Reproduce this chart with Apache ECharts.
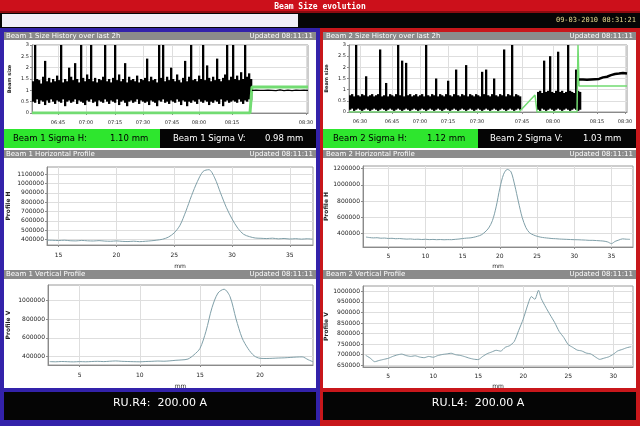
<!DOCTYPE html>
<html>
<head>
<meta charset="utf-8">
<title>Beam Size evolution</title>
<script src="https://cdn.jsdelivr.net/npm/echarts@6/dist/echarts.min.js"></script>
<style>
  html, body { margin: 0; padding: 0; background: #fff; }
  #chart { width: 640px; height: 426px; }
</style>
</head>
<body>
<div id="chart"></div>
<script>
// ---- beam 1 size history: min / max per time bin, then a quiet tail ----
var hi1 = [
  1.4, 3.0, 1.5, 1.45, 1.3, 1.6, 2.3, 1.4, 1.55, 1.35,
  1.5, 1.4, 1.65, 1.45, 3.0, 1.35, 1.5, 1.4, 2.0, 1.6,
  1.45, 2.2, 1.5, 1.35, 3.0, 1.55, 1.4, 1.7, 1.5, 3.0,
  1.4, 1.55, 1.35, 1.5, 1.45, 1.6, 3.0, 1.4, 1.5, 1.35,
  1.55, 3.0, 1.45, 1.7, 1.4, 1.5, 2.2, 1.35, 1.6, 1.45,
  1.5, 1.4, 1.65, 1.35, 1.5, 1.45, 1.55, 2.4, 1.4, 1.6,
  1.45, 1.5, 1.35, 3.0, 1.55, 3.0, 1.4, 1.6, 1.45, 2.0,
  1.5, 1.4, 1.7, 1.45, 1.35, 1.55, 2.3, 1.4, 1.6, 3.0,
  1.45, 1.5, 1.4, 1.65, 1.5, 3.0, 1.45, 2.1, 1.55, 1.4,
  1.6, 1.45, 2.4, 1.5, 1.4, 1.55, 1.7, 3.0, 1.45, 1.6,
  3.0, 1.5, 1.65, 1.45, 1.8, 1.5, 3.0, 1.6, 1.75, 1.5
];
var lo1 = [
  0.5, 0.45, 0.6, 0.4, 0.55, 0.5, 0.35, 0.55, 0.45, 0.6,
  0.5, 0.4, 0.55, 0.5, 0.45, 0.6, 0.3, 0.5, 0.55, 0.45,
  0.5, 0.6, 0.4, 0.55, 0.5, 0.45, 0.35, 0.55, 0.5, 0.6,
  0.45, 0.5, 0.3, 0.55, 0.5, 0.45, 0.6, 0.5, 0.4, 0.55,
  0.5, 0.45, 0.6, 0.35, 0.5, 0.55, 0.45, 0.3, 0.5, 0.55,
  0.45, 0.5, 0.6, 0.4, 0.55, 0.5, 0.45, 0.5, 0.35, 0.55,
  0.5, 0.45, 0.3, 0.55, 0.5, 0.6, 0.45, 0.5, 0.4, 0.55,
  0.5, 0.45, 0.6, 0.5, 0.35, 0.55, 0.5, 0.3, 0.5, 0.45,
  0.55, 0.5, 0.4, 0.6, 0.5, 0.45, 0.55, 0.5, 0.35, 0.5,
  0.45, 0.55, 0.5, 0.4, 0.6, 0.3, 0.5, 0.55, 0.45, 0.5,
  0.55, 0.5, 0.45, 0.6, 0.5, 0.4, 0.55, 0.5, 0.6, 0.55
];
var tail1Start = 110;
var tail1 = [1.0, 1.0, 1.01, 0.99, 1.0, 1.02, 1.0, 0.99, 1.01, 1.0,
  1.0, 1.01, 0.99, 1.0, 1.02, 1.0, 0.99, 1.0, 1.01, 1.0,
  0.99, 1.0, 1.01, 1.0, 1.0, 0.99, 1.01, 1.0, 1.0];
var fit1 = [[0, 0], [109, 0], [110, 1.15], [138, 1.15]];
var histTicks1 = [13, 27, 41.5, 55.5, 70, 83.5, 100, 137];
var histLabels1 = ['06:45', '07:00', '07:15', '07:30', '07:45', '08:00', '08:15', '08:30'];

// ---- beam 2 size history (no data between bins 86 and 93) ----
var hi2 = [
  0.75, 0.8, 0.7, 3.0, 0.75, 0.7, 0.8, 0.75, 1.6, 0.7,
  0.75, 0.8, 0.7, 0.75, 0.8, 2.8, 0.7, 0.75, 1.3, 0.7,
  0.8, 0.75, 0.7, 0.8, 3.0, 0.75, 2.3, 0.7, 2.2, 0.75,
  0.8, 0.7, 0.75, 0.8, 0.7, 0.75, 0.8, 0.7, 3.0, 0.75,
  0.7, 0.8, 0.75, 1.5, 0.7, 0.8, 0.75, 0.7, 0.8, 1.4,
  0.75, 0.7, 0.8, 1.9, 0.75, 0.7, 0.8, 0.75, 2.1, 0.7,
  0.8, 0.75, 0.7, 0.8, 0.75, 0.7, 1.8, 0.8, 1.9, 0.75,
  0.7, 0.8, 1.5, 0.75, 0.7, 0.8, 0.75, 2.8, 0.7, 0.8,
  0.75, 3.0, 0.7, 0.8, 0.75, 0.7, null, null, null, null,
  null, null, null, null, 0.9, 0.95, 0.85, 2.3, 0.9, 0.95,
  2.5, 0.9, 0.85, 0.95, 2.7, 0.9, 0.95, 0.85, 0.9, 3.0,
  0.95, 0.9, 0.85, 1.9, 0.95, 0.9
];
var lo2 = [
  0.1, 0.15, 0.05, 0.1, 0.15, 0.1, 0.05, 0.1, 0.15, 0.1,
  0.05, 0.1, 0.15, 0.1, 0.05, 0.1, 0.15, 0.1, 0.05, 0.1,
  0.15, 0.1, 0.05, 0.1, 0.15, 0.1, 0.05, 0.1, 0.15, 0.1,
  0.05, 0.1, 0.15, 0.1, 0.05, 0.1, 0.15, 0.1, 0.05, 0.1,
  0.15, 0.1, 0.05, 0.1, 0.15, 0.1, 0.05, 0.1, 0.15, 0.1,
  0.05, 0.1, 0.15, 0.1, 0.05, 0.1, 0.15, 0.1, 0.05, 0.1,
  0.15, 0.1, 0.05, 0.1, 0.15, 0.1, 0.05, 0.1, 0.15, 0.1,
  0.05, 0.1, 0.15, 0.1, 0.05, 0.1, 0.15, 0.1, 0.05, 0.1,
  0.15, 0.1, 0.05, 0.1, 0.15, 0.1, null, null, null, null,
  null, null, null, null, 0.1, 0.05, 0.15, 0.1, 0.05, 0.1,
  0.15, 0.1, 0.05, 0.1, 0.15, 0.1, 0.05, 0.1, 0.15, 0.1,
  0.05, 0.1, 0.15, 0.1, 0.05, 0.1
];
var tail2Start = 115;
var tail2 = [1.45, 1.5, 1.45, 1.48, 1.44, 1.5, 1.46, 1.5, 1.47, 1.52,
  1.48, 1.5, 1.55, 1.52, 1.58, 1.6, 1.65, 1.62, 1.7, 1.68,
  1.72, 1.7, 1.75, 1.7, 1.72];
var fit2 = [[0, 0], [85, 0], [93, 0.76], [94, 0], [114, 0], [114.5, 3], [115, 1.16], [139, 1.16]];
var histTicks2 = [5.5, 21.5, 35.5, 49.5, 64, 86.5, 102, 124, 138];
var histLabels2 = ['06:30', '06:45', '07:00', '07:15', '07:30', '07:45', '08:00', '08:15', '08:30'];
var histYTicks = [0, 0.5, 1, 1.5, 2, 2.5, 3];

// ---- beam 1 horizontal profile ----
var h1Pos = [14, 14.5, 15, 15.5, 16, 16.5, 17, 17.5, 18, 18.5, 19, 19.5, 20, 20.5, 21, 21.5, 22, 22.5, 23, 23.5,
  24, 24.5, 25, 25.5, 26, 26.5, 27, 27.5, 28, 28.5, 29, 29.5, 30, 30.5, 31, 31.5, 32, 32.5, 33, 33.5,
  34, 34.5, 35, 35.5, 36, 36.5, 37];
var h1Val = [392000, 390000, 388000, 391000, 386000, 384000, 389000, 385000, 383000, 387000,
  382000, 380000, 384000, 379000, 377000, 381000, 376000, 380000, 385000, 392000,
  402000, 425000, 470000, 552000, 700000, 870000, 1020000, 1130000, 1148000, 1060000,
  900000, 745000, 620000, 520000, 455000, 430000, 415000, 412000, 409000, 413000,
  406000, 410000, 404000, 408000, 403000, 407000, 402000];
var h1XTicks = [15, 20, 25, 30, 35];
var h1YTicks = [400000, 500000, 600000, 700000, 800000, 900000, 1000000, 1100000];

// ---- beam 2 horizontal profile ----
var h2Pos = [2, 2.5, 3, 3.5, 4, 4.5, 5, 5.5, 6, 6.5, 7, 7.5, 8, 8.5, 9, 9.5, 10, 10.5, 11, 11.5,
  12, 12.5, 13, 13.5, 14, 14.5, 15, 15.5, 16, 16.5, 17, 17.5, 18, 18.5, 19, 19.5, 20, 20.5, 21, 21.5,
  22, 22.5, 23, 23.5, 24, 24.5, 25, 25.5, 26, 26.5, 27, 27.5, 28, 28.5, 29, 29.5, 30, 30.5, 31, 31.5,
  32, 32.5, 33, 33.5, 34, 34.5, 35, 35.5, 36, 36.5, 37, 37.5];
var h2Val = [358000, 352000, 348000, 350000, 344000, 346000, 341000, 343000, 338000, 340000,
  336000, 333000, 335000, 330000, 332000, 328000, 331000, 327000, 329000, 326000,
  328000, 325000, 327000, 326000, 330000, 334000, 340000, 345000, 348000, 356000,
  368000, 385000, 420000, 470000, 560000, 730000, 960000, 1130000, 1190000, 1160000,
  995000, 790000, 600000, 475000, 410000, 385000, 368000, 357000, 350000, 345000,
  340000, 338000, 334000, 332000, 330000, 328000, 326000, 325000, 323000, 321000,
  318000, 318000, 315000, 312000, 308000, 298000, 278000, 305000, 322000, 336000,
  332000, 330000];
var h2XTicks = [5, 10, 15, 20, 25, 30, 35];
var h2YTicks = [400000, 600000, 800000, 1000000, 1200000];

// ---- beam 1 vertical profile ----
var v1Pos = [2.5, 3, 3.5, 4, 4.5, 5, 5.5, 6, 6.5, 7, 7.5, 8, 8.5, 9, 9.5, 10, 10.5, 11, 11.5, 12,
  12.5, 13, 13.5, 14, 14.5, 15, 15.5, 16, 16.5, 17, 17.5, 18, 18.5, 19, 19.5, 20, 20.5, 21, 21.5, 22,
  22.5, 23, 23.5, 24, 24.4];
var v1Val = [348000, 346000, 349000, 347000, 345000, 348000, 346000, 349000, 351000, 348000,
  352000, 355000, 351000, 349000, 347000, 346000, 349000, 351000, 354000, 352000,
  356000, 362000, 366000, 375000, 420000, 488000, 670000, 920000, 1075000, 1115000,
  1036000, 800000, 600000, 485000, 410000, 383000, 381000, 383000, 386000, 388000,
  392000, 396000, 398000, 368000, 346000];
var v1XTicks = [5, 10, 15, 20];
var v1YTicks = [400000, 600000, 800000, 1000000];

// ---- beam 2 vertical profile ----
var v2Pos = [2.5, 3, 3.5, 4, 4.5, 5, 5.5, 6, 6.5, 7, 7.5, 8, 8.5, 9, 9.5, 10, 10.5, 11, 11.5, 12,
  12.5, 13, 13.5, 14, 14.5, 15, 15.5, 16, 16.5, 17, 17.5, 18, 18.5, 19, 19.5, 20, 20.5, 20.9, 21.3, 21.7,
  22, 22.5, 23, 23.5, 24, 24.5, 25, 25.5, 26, 26.5, 27, 27.5, 28, 28.5, 29, 29.5, 30, 30.5, 31, 31.5, 32];
var v2Val = [697000, 684000, 667000, 673000, 678000, 683000, 692000, 699000, 703000, 696000,
  692000, 695000, 689000, 686000, 692000, 688000, 696000, 701000, 704000, 707000,
  700000, 697000, 691000, 684000, 679000, 677000, 692000, 705000, 713000, 721000,
  717000, 735000, 743000, 762000, 815000, 868000, 935000, 975000, 962000, 1005000,
  966000, 925000, 888000, 852000, 810000, 782000, 748000, 735000, 722000, 718000,
  708000, 704000, 690000, 678000, 684000, 690000, 702000, 718000, 725000, 733000, 738000];
var v2XTicks = [5, 10, 15, 20, 25, 30];
var v2YTicks = [650000, 700000, 750000, 800000, 850000, 900000, 950000, 1000000];

var FONT = 'DejaVu Sans';
var MONO = 'DejaVu Sans Mono';
var GRID_LINE = '#dedede';
var AXIS_COL = '#8a8a8a';
var PROFILE_COL = '#7f9fa8';

var chart = echarts.init(document.getElementById('chart'));

function rect(x, y, w, h, fill) {
  return { type: 'rect', silent: true, z: -10, shape: { x: x, y: y, width: w, height: h }, style: { fill: fill } };
}
function label(str, x, y, opts) {
  return {
    type: 'text', silent: true, z: 100,
    style: Object.assign({ text: str, x: x, y: y, fill: '#fff', fontSize: 7, fontFamily: FONT, align: 'left', verticalAlign: 'middle' }, opts || {})
  };
}

function xAxisOf(gi, min, max, ticks, names, fontSize, margin, axisName, nameGap) {
  return {
    gridIndex: gi, type: 'value', min: min, max: max,
    name: axisName || '', nameLocation: 'middle', nameGap: nameGap || 0,
    nameTextStyle: { fontSize: 6, color: '#222', fontFamily: FONT },
    axisLine: { lineStyle: { color: AXIS_COL } },
    axisTick: { customValues: ticks, length: 2, lineStyle: { color: AXIS_COL } },
    axisLabel: {
      customValues: ticks, fontSize: fontSize, color: '#222', margin: margin, fontFamily: FONT,
      formatter: function (v) { return names ? names[ticks.indexOf(v)] : String(v); }
    },
    splitLine: { show: true, lineStyle: { color: GRID_LINE } }
  };
}
function yAxisOf(gi, min, max, ticks, fontSize, axisName, nameGap, nameSize) {
  return {
    gridIndex: gi, type: 'value', min: min, max: max,
    name: axisName, nameLocation: 'middle', nameGap: nameGap,
    nameTextStyle: { fontSize: nameSize, color: '#222', fontFamily: FONT, fontWeight: 'bold' },
    axisLine: { show: true, lineStyle: { color: AXIS_COL } },
    axisTick: { show: true, customValues: ticks, length: 2, lineStyle: { color: AXIS_COL } },
    axisLabel: {
      customValues: ticks, fontSize: fontSize, color: '#222', margin: 3, fontFamily: FONT,
      formatter: function (v) { return String(v); }
    },
    splitLine: { show: true, lineStyle: { color: GRID_LINE } }
  };
}
function pairs(pos, val) {
  return pos.map(function (p, i) { return [p, val[i]]; });
}
function offsetPairs(start, val) {
  return val.map(function (v, i) { return [start + i, v]; });
}
function lineSeries(ai, data, color, width, smooth) {
  return {
    type: 'line', xAxisIndex: ai, yAxisIndex: ai, data: data, symbol: 'none', silent: true,
    smooth: smooth || false, lineStyle: { color: color, width: width }, connectNulls: false
  };
}
// one filled column per time bin, from its min to its max
function envelopeSeries(ai, lo, hi) {
  var data = [];
  hi.forEach(function (h, i) {
    if (h != null && lo[i] != null) data.push([i, lo[i], h]);
  });
  return {
    type: 'custom', xAxisIndex: ai, yAxisIndex: ai, data: data, silent: true, clip: true,
    encode: { x: 0, y: [1, 2] },
    renderItem: function (params, api) {
      var a = api.coord([api.value(0), api.value(1)]);
      var b = api.coord([api.value(0) + 1, api.value(2)]);
      return {
        type: 'rect',
        shape: { x: a[0], y: b[1], width: b[0] - a[0] + 0.3, height: a[1] - b[1] },
        style: { fill: '#000' }
      };
    }
  };
}

var frame = [
  rect(0, 0, 640, 426, '#ffffff'),
  rect(0, 0, 640, 12, '#cc101b'),
  rect(0, 11, 640, 2, '#8c0a10'),
  rect(0, 13, 640, 15, '#060606'),
  rect(2, 14, 296, 13, '#f1eff8'),
  rect(0, 28, 320, 398, '#3322aa'),
  rect(320, 28, 320, 398, '#c8171b'),
  rect(4, 32, 312, 356, '#ffffff'),
  rect(323, 32, 313, 356, '#ffffff'),
  rect(4, 32, 312, 8, '#8b8b8b'),
  rect(323, 32, 313, 8, '#8b8b8b'),
  rect(4, 150, 312, 8, '#8b8b8b'),
  rect(323, 150, 313, 8, '#8b8b8b'),
  rect(4, 270, 312, 9, '#8b8b8b'),
  rect(323, 270, 313, 9, '#8b8b8b'),
  rect(4, 129, 156, 19, '#2ee62e'),
  rect(160, 129, 156, 19, '#050505'),
  rect(323, 129, 155, 19, '#2ee62e'),
  rect(478, 129, 158, 19, '#050505'),
  rect(4, 392, 312, 28, '#050505'),
  rect(323, 392, 313, 28, '#050505'),

  label('Beam Size evolution', 320, 6.5, { align: 'center', fontSize: 8, fontWeight: 'bold', fontFamily: MONO }),
  label('09-03-2010 08:31:21', 636, 20.5, { align: 'right', fill: '#e6da8e', fontSize: 7, fontFamily: MONO }),

  label('Beam 1 Size History over last 2h', 6, 36),
  label('Updated 08:11:11', 313, 36, { align: 'right' }),
  label('Beam 2 Size History over last 2h', 326, 36),
  label('Updated 08:11:11', 633, 36, { align: 'right' }),
  label('Beam 1 Horizontal Profile', 6, 154),
  label('Updated 08:11:11', 313, 154, { align: 'right' }),
  label('Beam 2 Horizontal Profile', 326, 154),
  label('Updated 08:11:11', 633, 154, { align: 'right' }),
  label('Beam 1 Vertical Profile', 6, 274.5),
  label('Updated 08:11:11', 313, 274.5, { align: 'right' }),
  label('Beam 2 Vertical Profile', 326, 274.5),
  label('Updated 08:11:11', 633, 274.5, { align: 'right' }),

  label('Beam 1 Sigma H:', 13, 139, { fill: '#000', fontSize: 8.5 }),
  label('1.10 mm', 110, 139, { fill: '#000', fontSize: 8.5 }),
  label('Beam 1 Sigma V:', 173, 139, { fontSize: 8.5 }),
  label('0.98 mm', 265, 139, { fontSize: 8.5 }),
  label('Beam 2 Sigma H:', 333, 139, { fill: '#000', fontSize: 8.5 }),
  label('1.12 mm', 427, 139, { fill: '#000', fontSize: 8.5 }),
  label('Beam 2 Sigma V:', 490, 139, { fontSize: 8.5 }),
  label('1.03 mm', 583, 139, { fontSize: 8.5 }),

  label('RU.R4:  200.00 A', 160, 403, { align: 'center', fontSize: 11 }),
  label('RU.L4:  200.00 A', 478, 403, { align: 'center', fontSize: 11 })
];

var gridBase = { show: true, borderColor: '#9a9a9a', borderWidth: 1, backgroundColor: 'transparent', containLabel: false };

var option = {
  animation: false,
  graphic: { elements: frame },
  grid: [
    Object.assign({ left: 32, top: 45, width: 276, height: 68 }, gridBase),
    Object.assign({ left: 349, top: 45, width: 278, height: 67 }, gridBase),
    Object.assign({ left: 47, top: 167, width: 266, height: 78 }, gridBase),
    Object.assign({ left: 363, top: 166, width: 270, height: 81 }, gridBase),
    Object.assign({ left: 48, top: 285, width: 265, height: 80 }, gridBase),
    Object.assign({ left: 363, top: 286, width: 270, height: 81 }, gridBase)
  ],
  xAxis: [
    xAxisOf(0, 0, 138, histTicks1, histLabels1, 5, 7),
    xAxisOf(1, 0, 139, histTicks2, histLabels2, 5, 7),
    xAxisOf(2, 14, 37, h1XTicks, null, 6, 7, 'mm', 18),
    xAxisOf(3, 1.6, 37.9, h2XTicks, null, 6, 6, 'mm', 16),
    xAxisOf(4, 2.36, 24.4, v1XTicks, null, 6, 7, 'mm', 18),
    xAxisOf(5, 2.2, 32.2, v2XTicks, null, 6, 6, 'mm', 16)
  ],
  yAxis: [
    yAxisOf(0, 0, 3, histYTicks, 5, 'Beam size', 20, 5),
    yAxisOf(1, 0, 3, histYTicks, 5, 'Beam size', 20, 5),
    yAxisOf(2, 340000, 1177000, h1YTicks, 6, 'Profile H', 36, 6),
    yAxisOf(3, 236000, 1232000, h2YTicks, 6, 'Profile H', 34, 6),
    yAxisOf(4, 312000, 1160000, v1YTicks, 6, 'Profile V', 37, 6),
    yAxisOf(5, 642000, 1025000, v2YTicks, 6, 'Profile V', 34, 6)
  ],
  series: [
    lineSeries(0, fit1, '#72dc72', 3),
    envelopeSeries(0, lo1, hi1),
    lineSeries(0, offsetPairs(tail1Start, tail1), '#000000', 1.2),
    lineSeries(1, fit2, '#72dc72', 1.5),
    envelopeSeries(1, lo2, hi2),
    lineSeries(1, offsetPairs(tail2Start, tail2), '#000000', 2.5),
    lineSeries(2, pairs(h1Pos, h1Val), PROFILE_COL, 1, 0.3),
    lineSeries(3, pairs(h2Pos, h2Val), PROFILE_COL, 1, 0.3),
    lineSeries(4, pairs(v1Pos, v1Val), PROFILE_COL, 1, 0.3),
    lineSeries(5, pairs(v2Pos, v2Val), PROFILE_COL, 1, 0.2)
  ]
};

chart.setOption(option);
</script>
</body>
</html>
